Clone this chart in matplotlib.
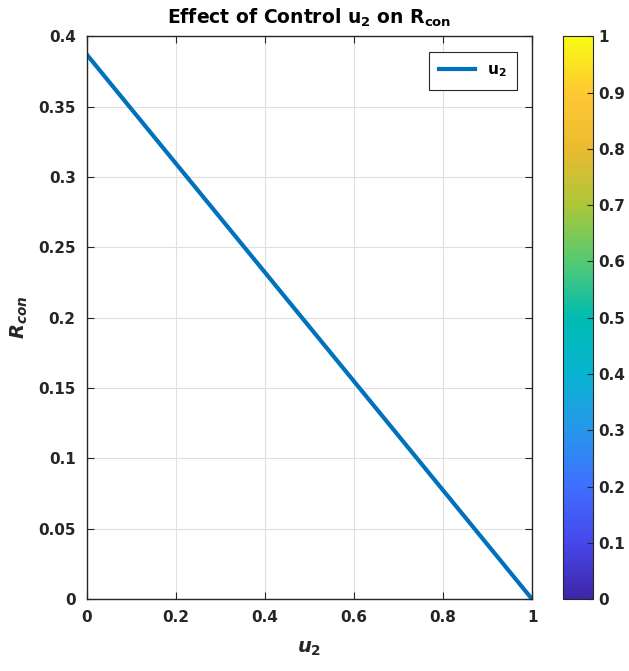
import numpy as np
import matplotlib
matplotlib.use("Agg")
import matplotlib.pyplot as plt
from matplotlib.colors import LinearSegmentedColormap
from matplotlib.cm import ScalarMappable
from matplotlib.colors import Normalize

plt.rcParams['font.family'] = 'DejaVu Sans'
plt.rcParams['font.weight'] = 'bold'
plt.rcParams['mathtext.fontset'] = 'custom'
plt.rcParams['mathtext.rm'] = 'DejaVu Sans:bold'
plt.rcParams['mathtext.it'] = 'DejaVu Sans:bold:italic'
plt.rcParams['mathtext.bf'] = 'DejaVu Sans:bold'
plt.rcParams['mathtext.default'] = 'rm'

# data
u2 = [0.0, 1.0]
r_con = [0.387, 0.0]
x_ticks = [0, 0.2, 0.4, 0.6, 0.8, 1]
y_ticks = [0, 0.05, 0.1, 0.15, 0.2, 0.25, 0.3, 0.35, 0.4]
cb_ticks = [0, 0.1, 0.2, 0.3, 0.4, 0.5, 0.6, 0.7, 0.8, 0.9, 1]

# parula-like colormap
parula = LinearSegmentedColormap.from_list('parula', [
    (0.2422, 0.1504, 0.6603), (0.2803, 0.2782, 0.9221), (0.2440, 0.4358, 0.9988),
    (0.1540, 0.5902, 0.9218), (0.0297, 0.7082, 0.8163), (0.0, 0.7350, 0.7000),
    (0.3300, 0.7900, 0.4500), (0.6720, 0.7793, 0.2227), (0.9184, 0.7308, 0.1890),
    (0.9956, 0.7862, 0.1967), (0.9769, 0.9839, 0.0805)])

fig = plt.figure(figsize=(6.29, 6.71), dpi=100)
ax = fig.add_axes([0.138, 0.107, 0.708, 0.839])
cax = fig.add_axes([0.895, 0.107, 0.048, 0.839])

ax.plot(u2, r_con, color=(0, 0.447, 0.741), lw=3, label='u$_2$')
ax.set_xlim(0, 1)
ax.set_ylim(0, 0.4)
ax.set_xticks(x_ticks)
ax.set_xticklabels([f'{t:g}' for t in x_ticks])
ax.set_yticks(y_ticks)
ax.set_yticklabels([f'{t:g}' for t in y_ticks])
ax.tick_params(direction='in', labelsize=11, top=True, right=True, length=5,
               pad=8, colors='#262626', labelcolor='#262626')
ax.grid(True, color='#e0e0e0', lw=0.8)
ax.set_axisbelow(True)
for s in ax.spines.values():
    s.set_linewidth(1.0)
    s.set_color('#262626')
ax.set_title('Effect of Control u$_2$ on R$_{con}$', fontsize=13.5, fontweight='bold', pad=9)
ax.set_xlabel(r'$\mathit{u_2}$', fontsize=14, labelpad=10, color='#262626')
ax.set_ylabel(r'$\mathit{R_{con}}$', fontsize=14, labelpad=6, color='#262626')
leg = ax.legend(loc='upper right', fontsize=11, handlelength=2.3, fancybox=False,
                edgecolor='#262626', framealpha=1, borderpad=0.7, borderaxespad=0,
                bbox_to_anchor=(0.966, 0.972))
leg.get_frame().set_linewidth(0.8)

cb = fig.colorbar(ScalarMappable(Normalize(0, 1), cmap=parula), cax=cax)
cb.set_ticks(cb_ticks)
cb.set_ticklabels([f'{t:g}' for t in cb_ticks])
cb.ax.tick_params(direction='in', labelsize=11, length=4, colors='#262626')
cb.outline.set_linewidth(0.8)
cb.outline.set_edgecolor('#262626')

fig.savefig('out.png', dpi=100)
